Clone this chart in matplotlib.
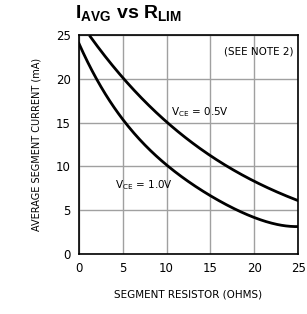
import matplotlib
matplotlib.use("Agg")
import matplotlib.pyplot as plt
import numpy as np

plt.rcParams['mathtext.fontset'] = 'custom'
plt.rcParams['mathtext.rm'] = 'DejaVu Sans'
plt.rcParams['mathtext.bf'] = 'Liberation Sans:bold'

r_05 = [1.3, 2.5, 5, 7.5, 10, 12.5, 15, 17.5, 20, 22.5, 25]
i_05 = [24.9, 23.0, 20.2, 17.5, 15.0, 13.0, 11.2, 9.7, 8.3, 7.1, 6.1]
r_10 = [0, 2.5, 5, 7.5, 10, 12.5, 15, 17.5, 20, 22.5, 25]
i_10 = [24.0, 19.2, 15.3, 12.4, 10.2, 8.3, 6.7, 5.2, 4.1, 3.5, 3.1]
xticks = [0, 5, 10, 15, 20, 25]
yticks = [0, 5, 10, 15, 20, 25]

fig = plt.figure(figsize=(3.07, 3.14), dpi=100)
ax = fig.add_axes([0.257, 0.191, 0.714, 0.698])

def smooth(x, y):
    x = np.asarray(x, float); y = np.asarray(y, float)
    xs = np.linspace(x[0], x[-1], 200)
    c = np.polyfit(x, y, 4)
    return xs, np.polyval(c, xs)

ax.plot(*smooth(r_05, i_05), color='black', lw=2.0)
ax.plot(*smooth(r_10, i_10), color='black', lw=2.0)

ax.set_xlim(0, 25)
ax.set_ylim(0, 25)
ax.set_xticks(xticks)
ax.set_yticks(yticks)
ax.grid(True, color='#a0a0a0', lw=1.0)
ax.tick_params(length=0, labelsize=8.5, pad=6)
for s in ax.spines.values():
    s.set_linewidth(1.2)

ax.text(10.5, 16.2, r'V$_{\mathregular{CE}}$ = 0.5V', fontsize=7.5, va='center', ha='left')
ax.text(4.1, 7.9, r'V$_{\mathregular{CE}}$ = 1.0V', fontsize=7.5, va='center', ha='left')
ax.text(24.5, 23.1, '(SEE NOTE 2)', fontsize=7.5, va='center', ha='right')

ax.set_xlabel('SEGMENT RESISTOR (OHMS)', fontsize=7.5, labelpad=10)
ax.set_ylabel('AVERAGE SEGMENT CURRENT (mA)', fontsize=7, labelpad=10)

fig.text(0.245, 0.955, r'I$_{\mathbf{AVG}}$ vs R$_{\mathbf{LIM}}$', fontsize=14,
         fontweight='bold', family='Liberation Sans', va='center', ha='left')

fig.savefig('out.png', dpi=100)
